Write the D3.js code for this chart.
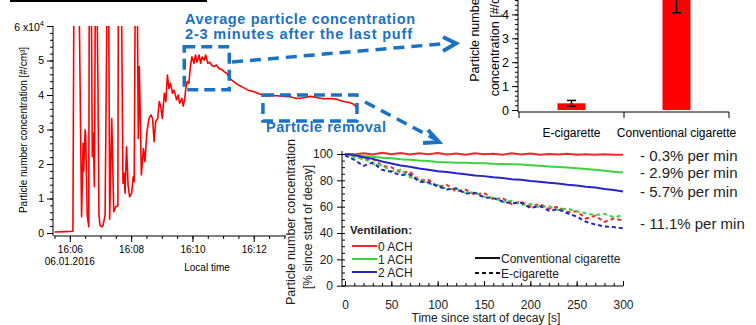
<!DOCTYPE html>
<html>
<head>
<meta charset="utf-8">
<script src="https://cdn.jsdelivr.net/npm/d3@7"></script>
<style>
  body { margin: 0; background: #fff; }
  svg { display: block; }
  text { font-family: "Liberation Sans", Arial, sans-serif; }
</style>
</head>
<body>
<svg id="chart" width="756" height="325"></svg>
<script>
// ---- data ----

// left panel: particle number concentration over local time (06.01.2016)
// seconds after 16:06:00, values in 1e4 #/cm3 (7 = off the top of the scale)
const timeSec = [-30, -10, 6, 8, 18, 23, 26, 27, 30, 31, 34, 37, 38, 42, 44, 46, 48, 50, 53, 55, 57, 59, 63, 65, 69,
  73, 76, 78, 82, 86, 90, 94, 95, 101, 104, 106, 108, 111, 114, 117, 121, 124, 126, 128, 132, 134, 136, 140, 144,
  147, 151, 155, 159, 162, 165, 168, 172, 175, 178, 181, 185, 188, 191, 194, 197, 201, 204, 209, 212, 215, 219,
  222, 225, 227, 230, 233, 236, 239, 243, 246, 249, 253, 256, 259, 263, 266, 270, 274, 277, 282, 287, 292, 297,
  302, 307, 312, 317, 323, 330, 339, 349, 359, 372, 385, 395, 405, 418, 431, 444, 457, 470, 483, 496, 509, 522,
  535, 545, 555, 560];
const concentration = [0.03, 0.04, 0.05, 7, 7, 0.47, 2.6, 1.78, 2.99, 2.84, 0.52, 0.18, 7, 7, 2.21, 2.89, 1.34, 7, 7,
  4.34, 0.52, 0.22, 0.18, 0.22, 0.52, 7, 7, 0.4, 3.32, 0.62, 0.76, 0.79, 7, 7, 1.44, 1.73, 1.15, 2.5, 1.39, 1.05,
  1.15, 1.63, 1.49, 7, 7, 2.74, 4.82, 1.68, 2.45, 2.07, 2.94, 3.32, 3.42, 3.32, 2.65, 3.23, 3.32, 3.81, 3.66, 3.32,
  4.05, 3.81, 4.58, 4.19, 4.34, 4.05, 4.14, 3.86, 4.0, 3.76, 3.9, 3.68, 3.9, 4.19, 4.39, 4.34, 4.82, 5.11, 4.92,
  5.16, 4.95, 5.16, 4.92, 5.1, 5.01, 5.16, 4.92, 4.95, 4.87, 4.82, 4.87, 4.77, 4.74, 4.68, 4.63, 4.51, 4.43, 4.36,
  4.29, 4.22, 4.14, 4.1, 4.03, 3.97, 3.99, 3.98, 3.96, 3.95, 3.9, 3.92, 3.96, 3.93, 3.89, 3.9, 3.88, 3.81, 3.79,
  3.74, 3.66];
const leftYTicks = [0, 1, 2, 3, 4, 5];
const leftXLabels = ["16:06", "16:08", "16:10", "16:12"];

// top right panel: average concentration 2-3 min after last puff (1e4 #/cm3)
const barCategories = ["E-cigarette", "Conventional cigarette"];
const barValues = [0.28, 4.7];
const barErrors = [0.12, 0.63];
const barYTicks = [0, 1, 2, 3, 4];

// bottom right panel: decay since start [%], time in s
const decayTime = [0, 10, 20, 30, 40, 50, 60, 70, 80, 90, 100, 110, 120, 130, 140, 150, 160, 170, 180, 190, 200,
  210, 220, 230, 240, 250, 260, 270, 280, 290, 300];
const conv0ACH = [100.0, 99.6, 100.6, 99.7, 100.9, 99.8, 100.7, 99.6, 100.5, 99.9, 100.8, 99.7, 100.3, 99.5, 100.6,
  99.8, 100.2, 99.5, 100.5, 99.7, 100.3, 99.4, 100.0, 99.6, 100.2, 99.4, 99.9, 99.5, 99.8, 99.4, 99.5];
const conv1ACH = [100.0, 99.3, 98.5, 97.9, 97.2, 96.7, 96.0, 95.6, 95.0, 94.6, 94.0, 93.8, 93.4, 93.3, 93.0, 92.9,
  92.6, 92.5, 92.2, 92.0, 91.5, 91.1, 90.6, 90.2, 89.7, 89.2, 88.6, 88.0, 87.3, 86.6, 85.9];
const conv2ACH = [100.0, 99.2, 97.6, 96.3, 94.3, 92.8, 91.2, 90.3, 89.0, 88.1, 86.9, 86.3, 85.3, 84.7, 83.7, 83.2,
  82.3, 81.8, 80.9, 80.4, 79.5, 79.0, 78.1, 77.6, 76.7, 76.1, 75.1, 74.5, 73.4, 72.6, 71.5];
const ecig0ACH = [100, 98.5, 96, 96.5, 91, 90, 86, 86.5, 80, 80.5, 75, 76.5, 71.5, 73, 69, 70.5, 65.5, 66.5, 62, 64,
  60, 62, 58.5, 60, 56, 56.5, 51, 53, 48.5, 51, 49.5];
const ecig1ACH = [100, 97.5, 96.5, 92.5, 91.5, 87, 88, 82.5, 80.5, 77.5, 76.5, 73.5, 73.5, 70.5, 71, 67.5, 67, 63.5,
  64.5, 61.5, 62, 59.5, 60.5, 57.5, 58.5, 56.5, 55, 53.5, 54.5, 52, 53.5];
const ecig2ACH = [99, 95.5, 91, 93.5, 88, 86.5, 84, 84.5, 79, 78.5, 75.5, 73, 74, 70, 70.5, 67, 66.5, 64, 62.5, 63,
  59, 60.5, 57, 58, 55, 52.5, 48.5, 46.5, 45, 44.5, 43.5];
const ventilation = ["0 ACH", "1 ACH", "2 ACH"];
const decayXTicks = [0, 50, 100, 150, 200, 250, 300];
const decayYTicks = [0, 20, 40, 60, 80, 100];
const decayRates = ["- 0.3% per min", "- 2.9% per min", "- 5.7% per min", "- 11.1% per min"];
const rateLevels = [99.2, 85.8, 71.4, 47.4];

const svg = d3.select("#chart");
const annBlue = "#1a72c0";
const ventColors = ["#f02a2a", "#3fd23f", "#2626c6"];

// ================= left panel =================
const base = new Date(2016, 0, 6, 16, 6, 0);
const toDate = s => new Date(base.getTime() + s * 1000);

const xL = d3.scaleTime()
  .domain([toDate(-31), toDate(568)])
  .range([54, 360]);
const yL = d3.scaleLinear().domain([0, 6]).range([233, 26]);

svg.append("clipPath").attr("id", "clipL")
  .append("rect").attr("x", 54).attr("y", 26).attr("width", 306).attr("height", 210);

// top rule left over from the cropped figure
svg.append("line").attr("x1", 10).attr("x2", 207).attr("y1", 1).attr("y2", 1)
  .attr("stroke", "#000").attr("stroke-width", 2);

const lineL = d3.line()
  .x((d, i) => xL(toDate(timeSec[i])))
  .y(d => yL(d));

svg.append("path")
  .datum(concentration)
  .attr("clip-path", "url(#clipL)")
  .attr("fill", "none")
  .attr("stroke", "#ff0000")
  .attr("stroke-width", 1.6)
  .attr("stroke-linejoin", "round")
  .attr("d", lineL);

// y axis with minor ticks
const gyMinor = svg.append("g").attr("transform", "translate(53,0)")
  .call(d3.axisLeft(yL).tickValues(d3.range(0, 6.01, 0.2)).tickSize(3).tickFormat(""));
gyMinor.selectAll("path").remove();
const gyL = svg.append("g").attr("transform", "translate(53,0)")
  .call(d3.axisLeft(yL).tickValues(leftYTicks.concat([6])).tickSize(6).tickSizeOuter(0)
    .tickFormat(d => d === 6 ? "" : d));
gyL.selectAll("text").attr("font-size", 10.5).attr("font-family", "Liberation Sans, Arial, sans-serif");
gyL.select("path").attr("d", `M0,${yL(6)}V${yL(0) + 3}`);

const topLab = svg.append("text").attr("x", 44).attr("y", 30.5).attr("text-anchor", "end")
  .attr("font-size", 10.5);
topLab.append("tspan").text("6 x10");
topLab.append("tspan").attr("dy", -5).attr("font-size", 7.5).text("4");

// x axis with minor ticks every 30 s
const gxMinor = svg.append("g").attr("transform", "translate(0,236)")
  .call(d3.axisBottom(xL).ticks(d3.timeSecond.every(30)).tickSize(3).tickFormat(""));
gxMinor.selectAll("path").remove();
const majorDates = leftXLabels.map(s => new Date(2016, 0, 6, +s.slice(0, 2), +s.slice(3)));
const gxL = svg.append("g").attr("transform", "translate(0,236)")
  .call(d3.axisBottom(xL).tickValues(majorDates).tickSize(6).tickSizeOuter(0)
    .tickFormat(d3.timeFormat("%H:%M")));
gxL.selectAll("text").attr("font-size", 10).attr("font-family", "Liberation Sans, Arial, sans-serif")
  .attr("dy", "0.8em");
gxL.select("path").attr("d", `M54,0H360`);

svg.append("text").attr("x", xL(majorDates[0])).attr("y", 264.5).attr("text-anchor", "middle")
  .attr("font-size", 10).text("06.01.2016");
svg.append("text").attr("x", 207).attr("y", 271).attr("text-anchor", "middle")
  .attr("font-size", 10).text("Local time");
svg.append("text").attr("transform", "translate(27,130) rotate(-90)").attr("text-anchor", "middle")
  .attr("font-size", 10).text("Particle number concentration [#/cm³]");

// ================= top right bar panel =================
const xB = d3.scaleBand().domain(barCategories).range([519, 729]);
const yB = d3.scaleLinear().domain([0, 5]).range([110, -9.5]);

svg.selectAll(".bar").data(barValues).enter().append("rect")
  .attr("class", "bar")
  .attr("x", (d, i) => xB(barCategories[i]) + xB.bandwidth() / 2 - 14)
  .attr("width", 28)
  .attr("y", d => yB(d))
  .attr("height", d => yB(0) - yB(d))
  .attr("fill", "#ff0000");

const errG = svg.selectAll(".err").data(barValues).enter().append("g").attr("class", "err")
  .attr("stroke", "#000").attr("stroke-width", 1.5);
errG.append("line")
  .attr("x1", (d, i) => xB(barCategories[i]) + xB.bandwidth() / 2)
  .attr("x2", (d, i) => xB(barCategories[i]) + xB.bandwidth() / 2)
  .attr("y1", (d, i) => yB(d - barErrors[i]))
  .attr("y2", (d, i) => yB(d + barErrors[i]));
[-1, 1].forEach(s => {
  errG.append("line")
    .attr("x1", (d, i) => xB(barCategories[i]) + xB.bandwidth() / 2 - 4.5)
    .attr("x2", (d, i) => xB(barCategories[i]) + xB.bandwidth() / 2 + 4.5)
    .attr("y1", (d, i) => yB(d + s * barErrors[i]))
    .attr("y2", (d, i) => yB(d + s * barErrors[i]));
});

const byMinor = svg.append("g").attr("transform", "translate(518,0)")
  .call(d3.axisLeft(yB).tickValues(d3.range(0, 4.81, 0.2)).tickSize(3).tickFormat(""));
byMinor.selectAll("path").remove();
const byAxis = svg.append("g").attr("transform", "translate(518,0)")
  .call(d3.axisLeft(yB).tickValues(barYTicks).tickSize(6).tickSizeOuter(0).tickPadding(3)
    .tickFormat(d3.format("d")));
byAxis.selectAll("text").attr("font-size", 12.5).attr("font-family", "Liberation Sans, Arial, sans-serif");
byAxis.select("path").attr("d", "M0,0V112");

const bxAxis = svg.append("g").attr("transform", "translate(0,112)")
  .call(d3.axisBottom(xB).tickSize(0).tickPadding(16));
bxAxis.selectAll("text").attr("font-size", 12).attr("font-family", "Liberation Sans, Arial, sans-serif");
bxAxis.select("path").attr("d", "M518,0H729");
[519, 624, 729].forEach(x => bxAxis.append("line").attr("x1", x).attr("x2", x)
  .attr("y1", 0).attr("y2", 6).attr("stroke", "#000"));

svg.append("text").attr("transform", "translate(479,38) rotate(-90)").attr("text-anchor", "middle")
  .attr("font-size", 12.5).text("Particle number");
svg.append("text").attr("transform", "translate(499,38) rotate(-90)").attr("text-anchor", "middle")
  .attr("font-size", 12.5).text("concentration [#/cm³]");

// ================= bottom right decay panel =================
// pasted figure with its own white background
svg.append("rect").attr("x", 286).attr("y", 141).attr("width", 470).attr("height", 184).attr("fill", "#fff");

const xD = d3.scaleLinear().domain([0, 300]).range([345, 623]);
const yD = d3.scaleLinear().domain([0, 100]).range([285.7, 154]);

const lineD = d3.line()
  .x((d, i) => xD(decayTime[i]))
  .y(d => yD(d));

const ecigSeries = [ecig0ACH, ecig1ACH, ecig2ACH];
const convSeries = [conv0ACH, conv1ACH, conv2ACH];

ecigSeries.forEach((s, k) => {
  svg.append("path").datum(s)
    .attr("fill", "none").attr("stroke", ventColors[k]).attr("stroke-width", 2)
    .attr("stroke-dasharray", "4,3").attr("d", lineD);
});
convSeries.forEach((s, k) => {
  svg.append("path").datum(s)
    .attr("fill", "none").attr("stroke", ventColors[k]).attr("stroke-width", 2)
    .attr("d", lineD);
});

const dxMinor = svg.append("g").attr("transform", "translate(0,286)")
  .call(d3.axisBottom(xD).tickValues(d3.range(0, 301, 10)).tickSize(-3).tickFormat(""));
dxMinor.selectAll("path").remove();
const dxAxis = svg.append("g").attr("transform", "translate(0,286)")
  .call(d3.axisBottom(xD).tickValues(decayXTicks).tickSize(-5).tickSizeOuter(0).tickPadding(14));
dxAxis.selectAll("text").attr("font-size", 12).attr("font-family", "Liberation Sans, Arial, sans-serif")
  .attr("fill", "#222");
dxAxis.select("path").attr("d", "M342,0H623");

const dyMinor = svg.append("g").attr("transform", "translate(342,0)")
  .call(d3.axisLeft(yD).tickValues(d3.range(0, 101, 5)).tickSize(-3).tickFormat(""));
dyMinor.selectAll("path").remove();
const dyAxis = svg.append("g").attr("transform", "translate(342,0)")
  .call(d3.axisLeft(yD).tickValues(decayYTicks).tickSize(5).tickSizeOuter(0).tickPadding(4));
dyAxis.selectAll("text").attr("font-size", 12).attr("font-family", "Liberation Sans, Arial, sans-serif")
  .attr("fill", "#222");
dyAxis.select("path").attr("d", "M0,151V286");

svg.append("text").attr("x", 486).attr("y", 322).attr("text-anchor", "middle")
  .attr("font-size", 12).attr("fill", "#222").text("Time since start of decay [s]");
svg.append("text").attr("transform", "translate(295,222) rotate(-90)").attr("text-anchor", "middle")
  .attr("font-size", 12.5).attr("fill", "#222").text("Particle number concentration");
svg.append("text").attr("transform", "translate(311.5,227) rotate(-90)").attr("text-anchor", "middle")
  .attr("font-size", 12).attr("fill", "#222").text("[% since start of decay]");

// ventilation legend
svg.append("text").attr("x", 350).attr("y", 234).attr("font-size", 11.5).attr("font-weight", "bold")
  .attr("fill", "#222").text("Ventilation:");
const ventLeg = svg.selectAll(".vleg").data(ventilation).enter().append("g").attr("class", "vleg")
  .attr("transform", (d, i) => `translate(352,${246 + i * 13})`);
ventLeg.append("line").attr("x1", 0).attr("x2", 25)
  .attr("stroke", (d, i) => ventColors[i]).attr("stroke-width", 2);
ventLeg.append("text").attr("x", 26).attr("y", 4.5).attr("font-size", 12).attr("fill", "#222").text(d => d);

// line style legend
const styleLeg = svg.selectAll(".sleg").data(["Conventional cigarette", "E-cigarette"]).enter().append("g")
  .attr("class", "sleg")
  .attr("transform", (d, i) => `translate(475,${258 + i * 15})`);
styleLeg.append("line").attr("x1", 0).attr("x2", 25).attr("stroke", "#111").attr("stroke-width", 2)
  .attr("stroke-dasharray", (d, i) => i ? "4,3" : null);
styleLeg.append("text").attr("x", 26).attr("y", 4.5).attr("font-size", 12).attr("fill", "#222").text(d => d);

// decay rate labels
svg.selectAll(".rate").data(decayRates).enter().append("text").attr("class", "rate")
  .attr("x", 640)
  .attr("y", (d, i) => yD(rateLevels[i]) + 5.5)
  .attr("font-family", "Open Sans, Noto Sans, sans-serif")
  .attr("font-size", 15).attr("fill", "#222")
  .text(d => d);

// ================= blue annotations =================
const ann = svg.append("g").attr("fill", "none").attr("stroke", annBlue).attr("stroke-width", 3.5);
ann.append("rect").attr("x", xL(toDate(224))).attr("y", yL(5.4)).attr("width", 45).attr("height", 43)
  .attr("stroke-dasharray", "11,6");
ann.append("rect").attr("x", xL(toDate(378))).attr("y", yL(4.0)).attr("width", 94).attr("height", 26)
  .attr("stroke-dasharray", "11,6");
ann.append("line").attr("x1", 232).attr("y1", 62).attr("x2", 447).attr("y2", 43.5)
  .attr("stroke-dasharray", "11,7");
ann.append("path").attr("d", "M443,37L456,43.5L443,51").attr("stroke-width", 4);
ann.append("line").attr("x1", 365).attr("y1", 102).attr("x2", 437).attr("y2", 140)
  .attr("stroke-dasharray", "11,7");
ann.append("path").attr("d", "M428,130L439,142L423,143").attr("stroke-width", 4);

const annText = svg.append("g").attr("fill", annBlue).attr("font-weight", "bold")
  .attr("font-family", "Open Sans, Noto Sans, sans-serif").attr("font-size", 14.5);
annText.append("text").attr("x", 185).attr("y", 23.5).attr("textLength", 230)
  .text("Average particle concentration");
annText.append("text").attr("x", 185).attr("y", 38.5).attr("textLength", 227)
  .text("2-3 minutes after the last puff");
annText.append("text").attr("x", 266).attr("y", 131.5).attr("textLength", 120)
  .text("Particle removal");
</script>
</body>
</html>
